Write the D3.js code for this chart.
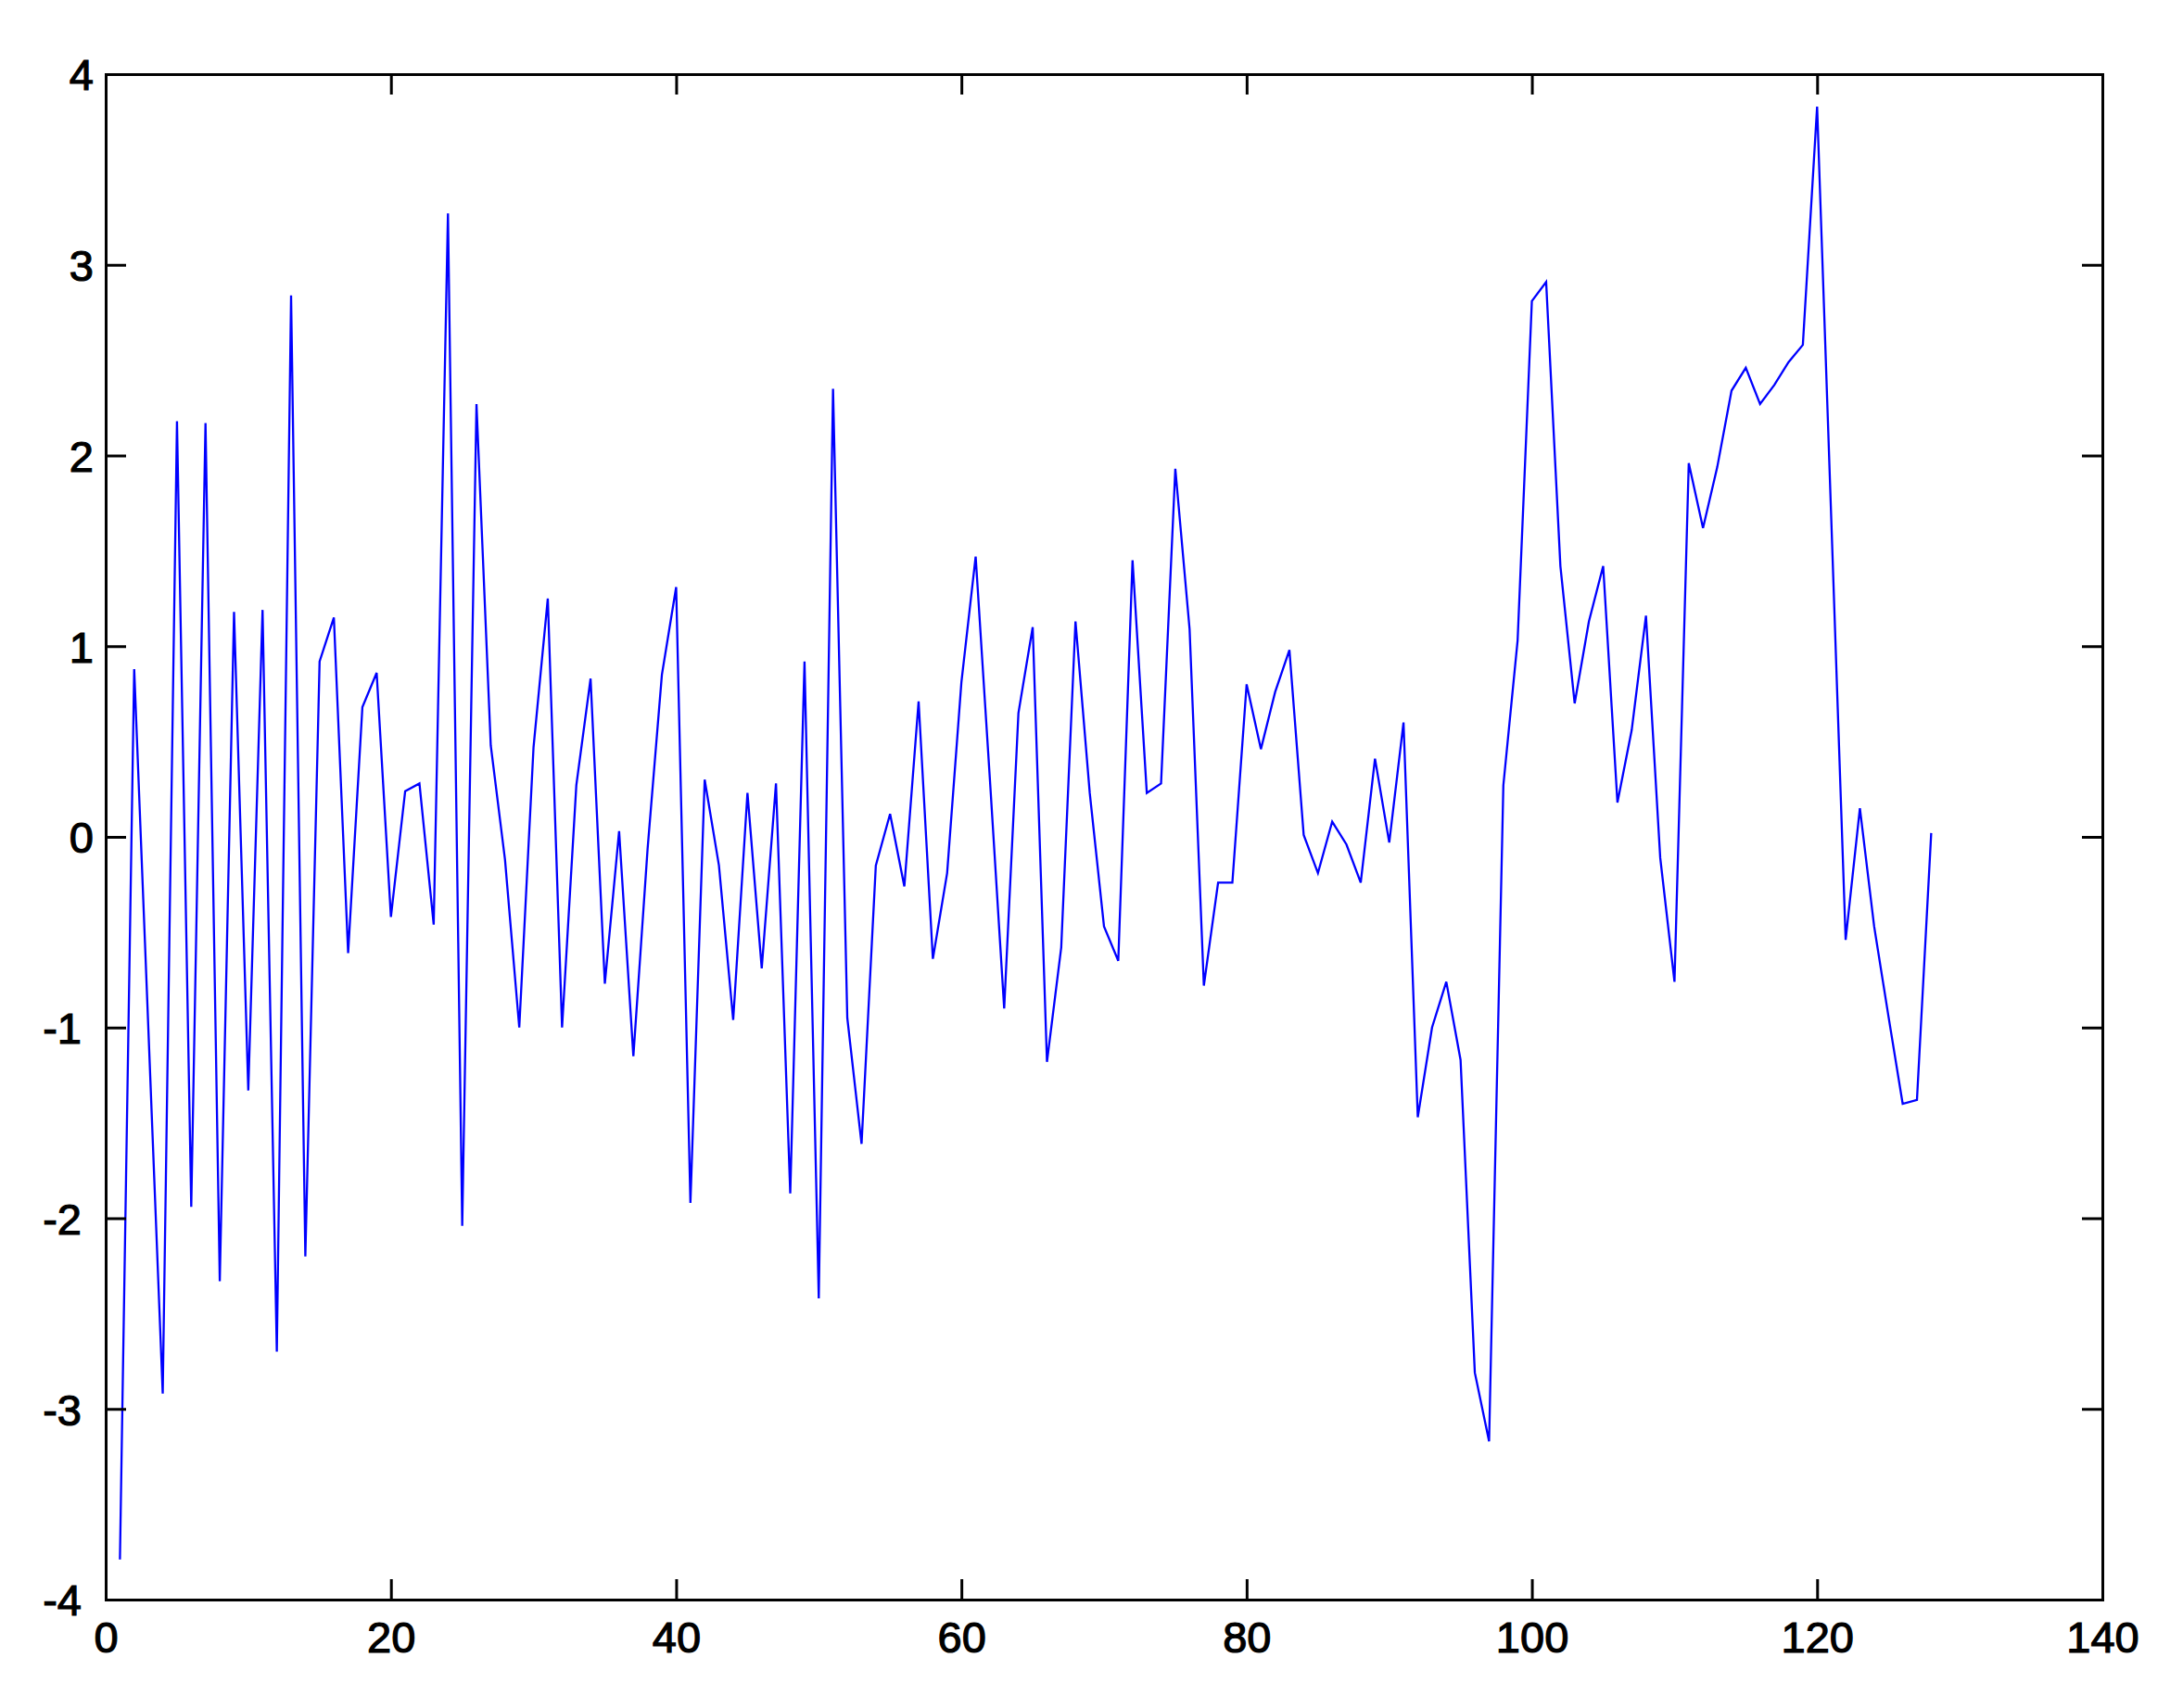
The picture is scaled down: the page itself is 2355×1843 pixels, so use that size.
<!DOCTYPE html>
<html>
<head>
<meta charset="utf-8">
<script src="https://cdn.jsdelivr.net/npm/d3@7"></script>
<style>
  html, body { margin: 0; padding: 0; background: #fff; }
  svg { display: block; }
</style>
</head>
<body>
<svg id="chart" width="2355" height="1843"></svg>
<script>
const values = [
  -3.79, 0.88, -1.02, -2.92, 2.18, -1.94, 2.17, -2.33, 1.18, -1.33,
  1.19, -2.70, 2.84, -2.20, 0.92, 1.15, -0.61, 0.68, 0.86, -0.42,
  0.24, 0.28, -0.46, 3.27, -2.04, 2.27, 0.48, -0.12, -1.00, 0.47,
  1.25, -1.00, 0.27, 0.83, -0.77, 0.03, -1.15, -0.06, 0.85, 1.31,
  -1.92, 0.30, -0.15, -0.96, 0.23, -0.69, 0.28, -1.87, 0.92, -2.42,
  2.35, -0.95, -1.61, -0.15, 0.12, -0.26, 0.71, -0.64, -0.19, 0.81,
  1.47, 0.30, -0.90, 0.65, 1.10, -1.18, -0.58, 1.13, 0.23, -0.47,
  -0.65, 1.45, 0.23, 0.28, 1.93, 1.09, -0.78, -0.24, -0.24, 0.80,
  0.46, 0.76, 0.98, 0.01, -0.19, 0.08, -0.04, -0.24, 0.41, -0.03,
  0.60, -1.47, -1.00, -0.76, -1.17, -2.81, -3.17, 0.27, 1.03, 2.81,
  2.91, 1.42, 0.70, 1.13, 1.42, 0.18, 0.56, 1.16, -0.11, -0.76,
  1.96, 1.62, 1.94, 2.34, 2.46, 2.27, 2.37, 2.49, 2.58, 3.83,
  1.65, -0.54, 0.15, -0.47, -0.94, -1.40, -1.38, 0.02
];
const xTicks = [0, 20, 40, 60, 80, 100, 120, 140];
const yTicks = [-4, -3, -2, -1, 0, 1, 2, 3, 4];
const xTickLabels = ['0', '20', '40', '60', '80', '100', '120', '140'];
const yTickLabels = ['-4', '-3', '-2', '-1', '0', '1', '2', '3', '4'];

const mLeft = 114, mRight = 2268, mTop = 80, mBottom = 1726;
const svg = d3.select('#chart');
const x = d3.scaleLinear().domain([0, 140]).range([mLeft, mRight]);
const y = d3.scaleLinear().domain([-4, 4]).range([mBottom, mTop]);

const tickLen = 22;
const axisStroke = 3;
const fontFamily = '"Liberation Sans", Arial, Helvetica, sans-serif';

// line
const data = values.map((v, i) => ({ i: i + 1, v }));
const line = d3.line().x(d => x(d.i)).y(d => y(d.v));
svg.append('path')
  .datum(data)
  .attr('d', line)
  .attr('fill', 'none')
  .attr('stroke', '#0000ff')
  .attr('stroke-width', 2.3)
  .attr('stroke-linejoin', 'miter');

// axes via d3 axis with inward ticks
const gB = svg.append('g').attr('transform', `translate(0,${mBottom})`)
  .call(d3.axisBottom(x).tickValues(xTicks).tickSize(-tickLen).tickPadding(24)
    .tickFormat((d, i) => xTickLabels[i]));
const gT = svg.append('g').attr('transform', `translate(0,${mTop})`)
  .call(d3.axisTop(x).tickValues(xTicks).tickSize(-tickLen).tickFormat(''));
const gL = svg.append('g').attr('transform', `translate(${mLeft},0)`)
  .call(d3.axisLeft(y).tickValues(yTicks).tickSize(-tickLen).tickPadding(12)
    .tickFormat((d, i) => yTickLabels[i]));
const gR = svg.append('g').attr('transform', `translate(${mRight},0)`)
  .call(d3.axisRight(y).tickValues(yTicks).tickSize(-tickLen).tickFormat(''));

[gB, gT, gL, gR].forEach(g => {
  g.selectAll('path.domain').attr('stroke', '#000').attr('stroke-width', axisStroke);
  g.selectAll('.tick line').attr('stroke', '#000').attr('stroke-width', axisStroke);
  g.selectAll('.tick text')
    .attr('fill', '#000')
    .attr('stroke', '#000')
    .attr('stroke-width', 1.2)
    .style('font-family', fontFamily)
    .style('font-size', '47px')
    .style('font-weight', 'normal');
});
gB.selectAll('.tick text').attr('dy', '0.71em');
gL.selectAll('.tick text').attr('dy', '0.36em')
  .attr('x', d => d < 0 ? -26 : -13);
</script>
</body>
</html>
